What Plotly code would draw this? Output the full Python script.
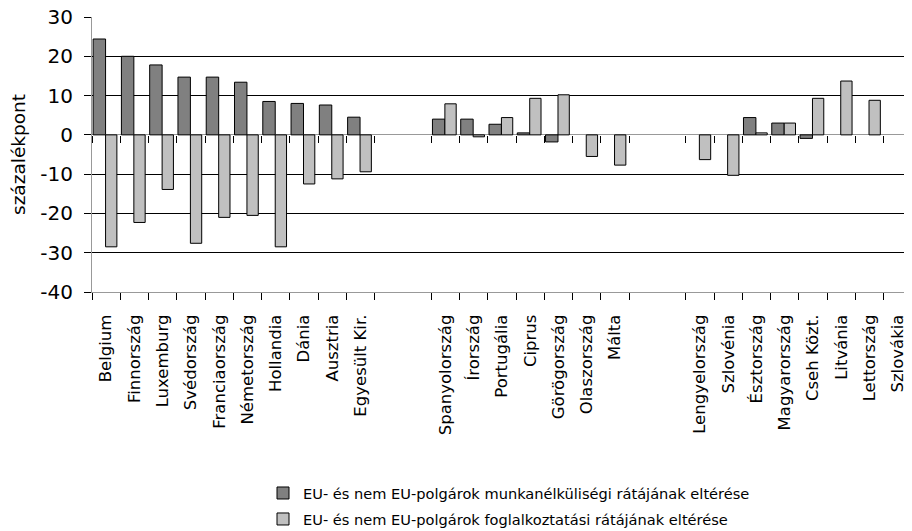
import plotly.graph_objects as go

categories = [
    "Belgium", "Finnország", "Luxemburg", "Svédország", "Franciaország",
    "Németország", "Hollandia", "Dánia", "Ausztria", "Egyesült Kir.",
    "", "",
    "Spanyolország", "Írország", "Portugália", "Ciprus", "Görögország",
    "Olaszország", "Málta",
    "", "",
    "Lengyelország", "Szlovénia", "Észtország", "Magyarország", "Cseh Közt.",
    "Litvánia", "Lettország", "Szlovákia",
]

unemployment_gap = [
    24.4, 20.0, 17.8, 14.7, 14.7, 13.4, 8.5, 8.0, 7.6, 4.5,
    None, None,
    4.0, 4.0, 2.7, 0.5, -1.8, None, None,
    None, None,
    None, None, 4.4, 3.0, -0.9, None, None, None,
]

employment_gap = [
    -28.5, -22.3, -13.9, -27.6, -21.0, -20.5, -28.5, -12.5, -11.2, -9.4,
    None, None,
    7.9, -0.5, 4.4, 9.3, 10.2, -5.5, -7.7,
    None, None,
    -6.3, -10.3, 0.5, 3.0, 9.3, 13.7, 8.8, None,
]

series_names = [
    "EU- és nem EU-polgárok munkanélküliségi rátájának eltérése",
    "EU- és nem EU-polgárok foglalkoztatási rátájának eltérése",
]
series_colors = ["#808080", "#c0c0c0"]

y_title = "százalékpont"
y_ticks = [30, 20, 10, 0, -10, -20, -30, -40]
y_ticktext = [str(v) for v in y_ticks]

FONT = "DejaVu Sans"

positions = list(range(len(categories)))
label_pos = [i for i, c in enumerate(categories) if c]
label_txt = [c for c in categories if c]

# tick marks at category boundaries next to a real category
n = len(categories)
boundaries = []
for k in range(n + 1):
    left = categories[k - 1] if k - 1 >= 0 else ""
    right = categories[k] if k < n else ""
    if left or right:
        boundaries.append(k - 0.5)

# page body adds an 8px offset; the right edge of the chart is cut by the window
W, H = 912, 531
ML, MR, MT, MB = 84, 8, 9, 247
plot_h = H - MT - MB
plot_bottom = H - MB
xr = [-0.5, n - 0.5]

BAR_W = 0.44
fig = go.Figure()
fig.add_trace(go.Bar(
    x=positions, y=unemployment_gap, name=series_names[0], legendgroup="a",
    xaxis="x", width=BAR_W, offset=-0.46,
    marker=dict(color=series_colors[0], line=dict(color="black", width=1)),
))
fig.add_trace(go.Bar(
    x=positions, y=employment_gap, name=series_names[1], legendgroup="b",
    xaxis="x2", width=BAR_W - 0.04, offset=-0.02,
    marker=dict(color=series_colors[1], line=dict(color="black", width=1)),
))

ymin, ymax = min(y_ticks), max(y_ticks)

fig.update_layout(
    width=W, height=H,
    margin=dict(l=ML, r=MR, t=MT, b=MB, autoexpand=False),
    paper_bgcolor="white", plot_bgcolor="white",
    barmode="overlay",
    font=dict(family=FONT, color="black"),
    showlegend=True,
    legend=dict(
        x=(255 - ML) / (W - ML - MR), y=(plot_bottom - 469) / plot_h,
        xanchor="left", yanchor="top",
        font=dict(size=14.6, family=FONT), tracegroupgap=4,
        bgcolor="rgba(0,0,0,0)",
    ),
    xaxis=dict(
        range=xr, tickmode="array", tickvals=label_pos, ticktext=label_txt,
        tickangle=-90, tickfont=dict(size=16.5, family=FONT),
        ticks="", showgrid=False, zeroline=False,
        showline=True, linecolor="#999999", linewidth=1,
        ticklabelstandoff=15, automargin=False, ticklabeloverflow="allow",
        minor=dict(tickmode="array", tickvals=boundaries, ticks="outside",
                   ticklen=7, tickcolor="black", tickwidth=1, showgrid=False),
    ),
    xaxis2=dict(
        overlaying="x", anchor="free", position=(0 - ymin) / (ymax - ymin),
        range=xr, tickmode="array", tickvals=boundaries,
        ticks="outside", ticklen=7, tickcolor="black", tickwidth=1,
        showticklabels=False, showgrid=False, zeroline=False, showline=False,
        side="bottom", automargin=False,
    ),
    yaxis=dict(
        range=[ymin, ymax], tickmode="array", tickvals=y_ticks,
        ticktext=y_ticktext,
        ticks="outside", ticklen=7, tickcolor="black",
        tickfont=dict(size=20, family=FONT), ticklabelstandoff=7,
        ticklabeloverflow="allow",
        showgrid=True, gridcolor="black", gridwidth=1,
        zeroline=True, zerolinecolor="#999999", zerolinewidth=1,
        showline=True, linecolor="#999999", linewidth=1,
        title=dict(text=y_title, font=dict(size=18.5, family=FONT), standoff=16),
        automargin=False,
    ),
)

fig.write_html("out.html")
